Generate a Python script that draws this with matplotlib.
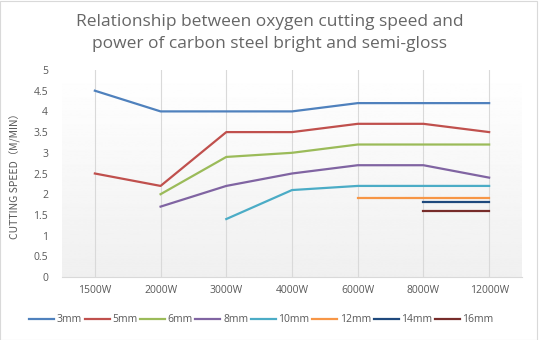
import matplotlib.pyplot as plt
import numpy as np

# donnees
powers = ['1500W', '2000W', '3000W', '4000W', '6000W', '8000W', '12000W']
nan = np.nan
s3mm = [4.5, 4.0, 4.0, 4.0, 4.2, 4.2, 4.2]
s5mm = [2.5, 2.2, 3.5, 3.5, 3.7, 3.7, 3.5]
s6mm = [nan, 2.0, 2.9, 3.0, 3.2, 3.2, 3.2]
s8mm = [nan, 1.7, 2.2, 2.5, 2.7, 2.7, 2.4]
s10mm = [nan, nan, 1.4, 2.1, 2.2, 2.2, 2.2]
s12mm = [nan, nan, nan, nan, 1.9, 1.9, 1.9]
s14mm = [nan, nan, nan, nan, nan, 1.8, 1.8]
s16mm = [nan, nan, nan, nan, nan, 1.6, 1.6]
labels = ['3mm', '5mm', '6mm', '8mm', '10mm', '12mm', '14mm', '16mm']
series = [s3mm, s5mm, s6mm, s8mm, s10mm, s12mm, s14mm, s16mm]
colors = ['#4F81BD', '#C0504D', '#9BBB59', '#8064A2', '#4BACC6', '#F79646', '#1F497D', '#772C2A']

plt.rcParams['font.family'] = ['Open Sans', 'DejaVu Sans']
txt = '#595959'

fig = plt.figure(figsize=(5.39, 3.40), dpi=100)
ax = fig.add_axes([62/539, 1-277/340, 460/539, 207/340])

# fond degrade blanc -> gris clair
grad = np.linspace(1.0, 0.94, 256).reshape(-1, 1)
ax.imshow(grad, cmap='gray', vmin=0, vmax=1, aspect='auto',
          extent=[0, 1, 0, 1], transform=ax.transAxes, zorder=0)

x = np.arange(len(powers))
for ys, lab, c in zip(series, labels, colors):
    ax.plot(x, ys, color=c, lw=1.6, label=lab, zorder=3)

ax.set_xlim(-0.5, len(powers) - 0.5)
ax.set_ylim(0, 5)
ax.set_xticks(x)
ax.set_xticklabels(powers)
ax.set_yticks(np.arange(0, 5.01, 0.5))
ax.set_yticklabels(['0', '0.5', '1', '1.5', '2', '2.5', '3', '3.5', '4', '4.5', '5'])
ax.tick_params(colors=txt, labelsize=7.5, length=0, pad=6)
ax.tick_params(axis='y', pad=10)
for s in ['top', 'right', 'left']:
    ax.spines[s].set_visible(False)
ax.spines['bottom'].set_color('#D9D9D9')
ax.grid(axis='x', color='#D9D9D9', lw=0.8, zorder=1)
ax.set_axisbelow(True)

ax.set_ylabel('CUTTING SPEED（M/MIN）', color=txt, fontsize=7.5,
              family=['Noto Sans CJK SC', 'DejaVu Sans'])
ax.yaxis.set_label_coords(-0.09, 0.5)

fig.text(0.5, 0.903, 'Relationship between oxygen cutting speed and\npower of carbon steel bright and semi-gloss',
         ha='center', va='center', fontsize=12.5, color='#666666', linespacing=1.5)

fig.legend(loc='center', bbox_to_anchor=(0.485, 1-320/340), ncol=8, frameon=False,
           fontsize=7.5, labelcolor=txt, handlelength=2.4, columnspacing=0.25,
           handletextpad=0.25)

# cadre du graphique
fig.patches.append(plt.Rectangle((0, 0), 0.997, 0.997, transform=fig.transFigure,
                                 fill=False, ec='#D9D9D9', lw=0.8))

fig.savefig('out.png', dpi=100)
